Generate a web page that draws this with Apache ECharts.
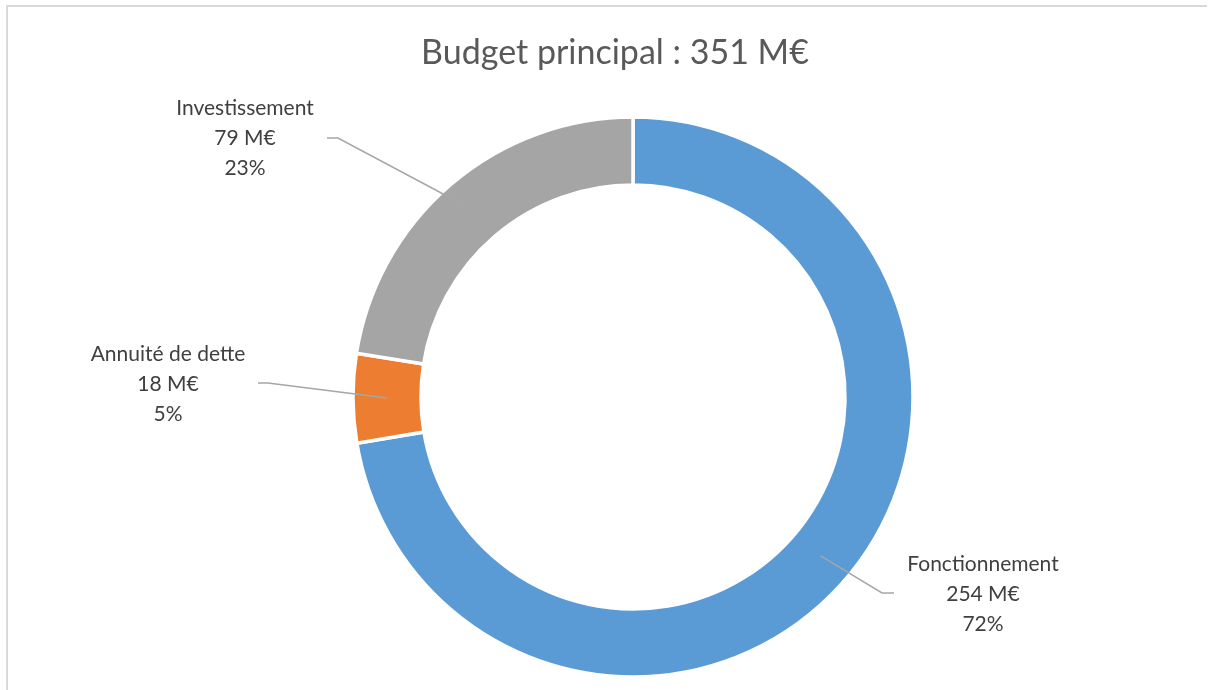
<!DOCTYPE html>
<html>
<head>
<meta charset="utf-8">
<script src="https://cdn.jsdelivr.net/npm/echarts@6/dist/echarts.min.js"></script>
<style>html,body{margin:0;padding:0;background:#fff}#c{width:1208px;height:690px}</style>
</head>
<body>
<div id="c"></div>
<script>
const categories = ['Fonctionnement', 'Annuité de dette', 'Investissement'];
const values = [254, 18, 79];
const colors = ['#5B9BD5', '#ED7D31', '#A5A5A5'];
const titleText = 'Budget principal : 351 M€';

const CX = 633, CY = 397, R_IN = 212, R_OUT = 280;
const labelCenters = [[983, 594], [168, 384], [245, 138]];
const lineEnds = [[[882, 593], [894, 593]], [[268, 383], [258, 383]], [[338, 138], [327, 138]]];

const total = values.reduce((a, b) => a + b, 0);
const midAngles = [];
let acc = 0;
values.forEach(v => { midAngles.push((acc + v / 2) / total * 2 * Math.PI); acc += v; });

const pieData = categories.map((n, i) => ({ name: n, value: values[i], itemStyle: { color: colors[i] } }));

const chart = echarts.init(document.getElementById('c'));
chart.setOption({
  animation: false,
  title: {
    text: titleText,
    left: 610, top: 31, textAlign: 'center',
    textStyle: { fontFamily: 'Lato', fontSize: 34, fontWeight: 'normal', color: '#595959' }
  },
  graphic: [
    { type: 'line', shape: { x1: 6, y1: 6, x2: 1207, y2: 6 }, style: { stroke: '#D9D9D9', lineWidth: 2 } },
    { type: 'line', shape: { x1: 7, y1: 5, x2: 7, y2: 690 }, style: { stroke: '#D9D9D9', lineWidth: 2 } }
  ],
  series: [{
    type: 'pie',
    z: 2,
    center: [CX, CY],
    radius: [R_IN, R_OUT],
    startAngle: 90,
    clockwise: true,
    data: pieData,
    itemStyle: { borderColor: '#fff', borderWidth: 3.5 },
    label: { show: false },
    labelLine: { show: false },
    emphasis: { disabled: true }
  }, {
    type: 'pie',
    z: 5,
    silent: true,
    center: [CX, CY],
    radius: [R_IN, R_OUT],
    startAngle: 90,
    clockwise: true,
    data: pieData.map(d => ({ name: d.name, value: d.value })),
    itemStyle: { color: 'rgba(0,0,0,0)', borderWidth: 0 },
    label: {
      show: true,
      position: 'outside',
      formatter: p => p.name + '\n' + p.value + ' M€\n' + Math.round(p.percent) + '%',
      fontFamily: 'Lato', fontSize: 21, lineHeight: 30, color: '#404040'
    },
    labelLine: { show: true, lineStyle: { color: '#A6A6A6', width: 1.5 } },
    emphasis: { disabled: true },
    labelLayout: function (p) {
      const i = p.dataIndex;
      const a = midAngles[i];
      const rm = (R_IN + R_OUT) / 2;
      const start = [CX + rm * Math.sin(a), CY - rm * Math.cos(a)];
      return {
        x: labelCenters[i][0], y: labelCenters[i][1],
        align: 'center', verticalAlign: 'middle',
        labelLinePoints: [start, lineEnds[i][0], lineEnds[i][1]]
      };
    }
  }]
});
</script>
</body>
</html>
